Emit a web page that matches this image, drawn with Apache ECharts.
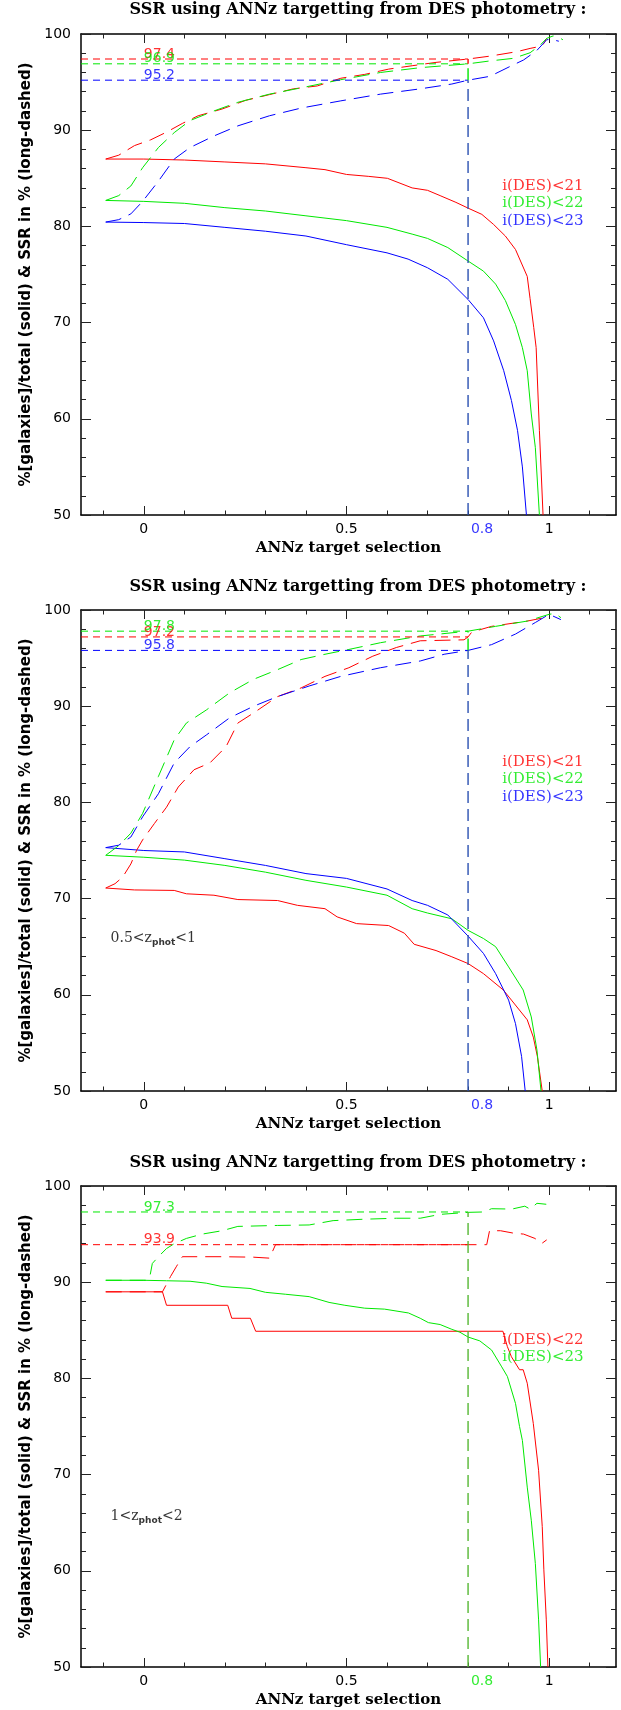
<!DOCTYPE html>
<html><head><meta charset="utf-8">
<script src="https://cdn.jsdelivr.net/npm/echarts@6/dist/echarts.min.js"></script>
<style>html,body{margin:0;padding:0;background:#fff}#c{width:621px;height:1710px}</style>
</head><body><div id="c"></div>
<script>
// ---------- axis ranges & ticks ----------
const XMIN = -0.155, XMAX = 1.165, YMIN = 50, YMAX = 100;
const XCUT = 0.8;
const xMajorTicks = [0, 0.5, 1];
const xTickLabels = ['0', '0.5', '1'];
const xMinorTicks = [-0.1, 0.1, 0.2, 0.3, 0.4, 0.6, 0.7, 0.8, 0.9, 1.1];
const titleText = 'SSR using ANNz targetting from DES photometry :';
const xName = 'ANNz target selection';
const yName = '%[galaxies]/total (solid) & SSR in % (long-dashed)';

// ---------- panel 1 (all z) ----------
const p1Legend = ['i(DES)<21', 'i(DES)<22', 'i(DES)<23'];
const p1SSR = [97.4, 96.9, 95.2];
const p1RedSolid = [[-0.094,87.0],[0,87.0],[0.1,86.9],[0.2,86.7],[0.3,86.5],[0.4,86.1],[0.447,85.9],[0.5,85.4],[0.555,85.2],[0.601,85.0],[0.662,84.0],[0.7,83.75],[0.731,83.2],[0.77,82.5],[0.8,81.9],[0.834,81.25],[0.863,80.2],[0.892,79.0],[0.917,77.6],[0.946,74.8],[0.953,72.5],[0.962,69.5],[0.968,67.4],[0.976,58.8],[0.985,50]];
const p1GreenSolid = [[-0.094,82.7],[0,82.6],[0.1,82.4],[0.2,81.95],[0.3,81.6],[0.4,81.1],[0.5,80.6],[0.6,79.9],[0.662,79.2],[0.7,78.75],[0.75,77.8],[0.8,76.4],[0.838,75.35],[0.868,74.0],[0.892,72.3],[0.917,69.8],[0.934,67.4],[0.946,65.0],[0.956,60.5],[0.966,57.0],[0.976,50]];
const p1BlueSolid = [[-0.094,80.45],[0,80.4],[0.1,80.3],[0.2,79.9],[0.3,79.5],[0.4,79.0],[0.5,78.1],[0.6,77.25],[0.652,76.6],[0.7,75.7],[0.75,74.5],[0.8,72.4],[0.838,70.5],[0.863,68.1],[0.888,65.0],[0.907,61.9],[0.922,58.8],[0.934,55.0],[0.944,50]];
const p1RedSSR = [[-0.094,87.0],[-0.062,87.4],[-0.023,88.4],[0.017,89.0],[0.056,89.8],[0.095,90.7],[0.134,91.5],[0.193,92.2],[0.251,93.1],[0.31,93.7],[0.369,94.3],[0.428,94.6],[0.486,95.4],[0.545,95.8],[0.604,96.35],[0.662,96.7],[0.721,97.05],[0.8,97.4],[0.854,97.7],[0.92,98.16],[0.953,98.5],[0.982,98.75],[0.986,98.96],[0.994,99.55]];
const p1GreenSSR = [[-0.094,82.7],[-0.062,83.2],[-0.032,84.2],[-0.003,86.1],[0.036,88.2],[0.075,89.75],[0.114,91.0],[0.173,92.0],[0.232,92.9],[0.31,93.75],[0.388,94.4],[0.486,95.25],[0.584,96.0],[0.682,96.5],[0.8,96.9],[0.854,97.2],[0.912,97.47],[0.953,98.05],[0.978,98.85],[0.994,99.55],[1.01,99.8],[1.024,99.65],[1.034,99.4]];
const p1BlueSSR = [[-0.094,80.45],[-0.062,80.7],[-0.032,81.3],[-0.003,82.6],[0.036,84.7],[0.075,87.0],[0.114,88.2],[0.173,89.4],[0.232,90.45],[0.31,91.5],[0.388,92.3],[0.486,93.05],[0.584,93.75],[0.682,94.3],[0.76,94.8],[0.8,95.2],[0.854,95.6],[0.912,96.8],[0.937,97.3],[0.97,98.3],[0.994,99.4],[1.004,99.45],[1.024,99.25]];

// ---------- panel 2 (0.5<z<1) ----------
const p2Legend = ['i(DES)<21', 'i(DES)<22', 'i(DES)<23'];
const p2SSR = [97.2, 97.8, 95.8];
const p2RedSolid = [[-0.094,71.1],[-0.023,70.9],[0.075,70.85],[0.105,70.5],[0.173,70.35],[0.232,69.9],[0.33,69.8],[0.379,69.3],[0.447,68.95],[0.477,68.1],[0.525,67.4],[0.604,67.2],[0.643,66.4],[0.667,65.25],[0.721,64.6],[0.76,63.95],[0.8,63.25],[0.838,62.2],[0.887,60.5],[0.907,59.45],[0.946,57.4],[0.961,55.6],[0.971,53.6],[0.983,50]];
const p2GreenSolid = [[-0.094,74.5],[0,74.3],[0.1,74.0],[0.2,73.45],[0.3,72.75],[0.4,71.9],[0.5,71.2],[0.6,70.35],[0.662,68.95],[0.7,68.5],[0.76,67.9],[0.8,66.7],[0.838,65.85],[0.868,65.0],[0.9,62.9],[0.936,60.5],[0.956,57.7],[0.97,54.25],[0.98,50]];
const p2BlueSolid = [[-0.094,75.3],[0,75.0],[0.1,74.85],[0.2,74.15],[0.3,73.45],[0.4,72.6],[0.5,72.1],[0.6,71.0],[0.662,69.8],[0.7,69.3],[0.75,68.3],[0.8,66.1],[0.838,64.3],[0.868,62.2],[0.9,59.45],[0.917,57.0],[0.932,53.6],[0.941,50]];
const p2RedSSR = [[-0.094,71.1],[-0.071,71.55],[-0.052,72.25],[-0.032,73.6],[-0.018,75.0],[-0.003,76.1],[0.026,77.8],[0.056,79.5],[0.085,81.6],[0.124,83.4],[0.163,84.1],[0.203,85.8],[0.232,88.25],[0.271,89.3],[0.33,91.0],[0.388,91.9],[0.447,93.1],[0.506,94.0],[0.565,95.2],[0.623,96.1],[0.682,96.8],[0.79,96.9],[0.8,97.2],[0.809,97.7],[0.858,98.3],[0.946,98.85],[1.0,99.3]];
const p2GreenSSR = [[-0.094,74.5],[-0.062,75.5],[-0.032,76.8],[-0.003,78.85],[0.036,82.7],[0.075,86.5],[0.105,88.25],[0.154,89.6],[0.212,91.4],[0.271,92.8],[0.33,93.8],[0.388,94.85],[0.447,95.4],[0.506,95.9],[0.584,96.6],[0.682,97.3],[0.8,97.8],[0.868,98.3],[0.946,98.85],[1.0,99.55],[1.015,99.65],[1.029,99.2]];
const p2BlueSSR = [[-0.094,75.3],[-0.062,75.55],[-0.032,76.4],[-0.003,78.5],[0.036,80.9],[0.075,84.1],[0.114,85.8],[0.154,87.0],[0.212,88.8],[0.271,90.0],[0.33,91.0],[0.408,92.1],[0.486,93.1],[0.584,94.0],[0.682,94.7],[0.741,95.4],[0.8,95.8],[0.858,96.4],[0.917,97.5],[0.966,98.7],[1.0,99.55],[1.029,99.0]];

// ---------- panel 3 (1<z<2) ----------
const p3Legend = ['i(DES)<22', 'i(DES)<23'];
const p3SSR = [93.9, 97.3];
const p3RedSolid = [[-0.094,89.0],[0.046,89.0],[0.056,87.6],[0.207,87.6],[0.217,86.25],[0.263,86.25],[0.276,84.9],[0.886,84.9],[0.897,83.3],[0.907,82.25],[0.927,80.9],[0.936,80.9],[0.946,79.5],[0.961,75.3],[0.974,70.45],[0.983,64.6],[0.987,60.1],[0.993,54.9],[0.997,50]];
const p3GreenSolid = [[-0.094,90.2],[0,90.2],[0.056,90.15],[0.114,90.1],[0.154,89.9],[0.193,89.55],[0.262,89.35],[0.3,88.95],[0.349,88.75],[0.408,88.5],[0.457,87.9],[0.496,87.6],[0.545,87.3],[0.594,87.2],[0.653,86.8],[0.682,86.25],[0.702,85.8],[0.731,85.6],[0.76,85.1],[0.78,84.8],[0.8,84.3],[0.829,83.9],[0.858,82.95],[0.883,81.2],[0.897,80.2],[0.917,77.4],[0.927,75.0],[0.934,73.55],[0.946,68.7],[0.956,65.25],[0.966,60.75],[0.974,54.9],[0.979,50]];
const p3RedSSR = [[-0.094,89.0],[0.046,89.0],[0.066,90.6],[0.08,91.6],[0.095,92.65],[0.193,92.65],[0.271,92.6],[0.31,92.5],[0.325,93.9],[0.846,93.9],[0.853,95.35],[0.88,95.35],[0.912,95.1],[0.937,95.0],[0.965,94.55],[0.982,94.03],[0.994,94.4]];
const p3GreenSSR = [[-0.094,90.2],[0.007,90.2],[0.015,90.6],[0.021,91.95],[0.036,92.65],[0.056,93.5],[0.075,94.0],[0.105,94.55],[0.144,95.0],[0.193,95.35],[0.232,95.8],[0.33,95.9],[0.408,95.95],[0.467,96.4],[0.545,96.55],[0.623,96.65],[0.682,96.65],[0.731,97.05],[0.8,97.26],[0.838,97.3],[0.858,97.64],[0.908,97.6],[0.94,97.9],[0.953,97.6],[0.97,98.2],[0.993,98.1]];

// ---------- styling ----------
const RED = '#ff0000', GREEN = '#00e800', BLUE = '#0000ff';
const VBLUE = '#2a4fb0', VGREEN = '#55b733';
const SANS = 'DejaVu Sans', SERIF = 'DejaVu Serif';
const GRID_TOPS = [34, 610, 1186];
const GRID_LEFT = 81, GRID_W = 535, GRID_H = 481;
const LONG_DASH = [16, 8];

const grids = [], xAxes = [], yAxes = [], series = [], graphics = [];

function addAxes(gi) {
  grids.push({left: GRID_LEFT, top: GRID_TOPS[gi], width: GRID_W, height: GRID_H, containLabel: false});
  const base = {gridIndex: gi, type: 'value', min: XMIN, max: XMAX, splitLine: {show: false}, minorSplitLine: {show: false}};
  const tickStyle = {color: '#222', width: 1};
  xAxes.push(Object.assign({}, base, {
    position: 'bottom',
    axisLine: {show: true, onZero: false, lineStyle: {color: '#000', width: 1.5}},
    axisTick: {show: true, inside: true, length: 9, customValues: xMajorTicks, lineStyle: tickStyle},
    axisLabel: {show: true, customValues: xMajorTicks, margin: 7, fontSize: 14, fontFamily: SANS, color: '#000',
      formatter: v => xTickLabels[xMajorTicks.indexOf(v)] ?? String(v)},
    name: xName, nameLocation: 'middle', nameGap: 26,
    nameTextStyle: {fontFamily: SERIF, fontWeight: 'bold', fontSize: 15, color: '#000'}
  }));
  xAxes.push(Object.assign({}, base, {
    position: 'bottom', axisLine: {show: false, onZero: false},
    axisTick: {show: true, inside: true, length: 4.5, customValues: xMinorTicks, lineStyle: tickStyle},
    axisLabel: {show: false}
  }));
  xAxes.push(Object.assign({}, base, {
    position: 'top', axisLine: {show: true, onZero: false, lineStyle: {color: '#000', width: 1.5}},
    axisTick: {show: true, inside: true, length: 9, customValues: xMajorTicks, lineStyle: tickStyle},
    axisLabel: {show: false}
  }));
  xAxes.push(Object.assign({}, base, {
    position: 'top', axisLine: {show: false, onZero: false},
    axisTick: {show: true, inside: true, length: 4.5, customValues: xMinorTicks, lineStyle: tickStyle},
    axisLabel: {show: false}
  }));
  const ybase = {gridIndex: gi, type: 'value', min: YMIN, max: YMAX, interval: 10,
    splitLine: {show: false}, minorSplitLine: {show: false},
    axisLine: {show: true, onZero: false, lineStyle: {color: '#000', width: 1.5}},
    axisTick: {show: true, inside: true, length: 10, lineStyle: tickStyle},
    minorTick: {show: true, splitNumber: 5, length: 5, lineStyle: tickStyle}};
  yAxes.push(Object.assign({}, ybase, {
    position: 'left',
    axisLabel: {show: true, margin: 10, fontSize: 14, fontFamily: SANS, color: '#000'},
    name: yName, nameLocation: 'middle', nameRotate: 90, nameGap: 47,
    nameTextStyle: {fontFamily: SANS, fontWeight: 'bold', fontSize: 15, color: '#000'}
  }));
  yAxes.push(Object.assign({}, ybase, {position: 'right', axisLabel: {show: false}}));
}

function line(gi, data, color, dash, width, z) {
  series.push({type: 'line', xAxisIndex: gi * 4, yAxisIndex: gi * 2, data: data,
    symbol: 'none', showSymbol: false, silent: true, animation: false, z: z || 2,
    lineStyle: {color: color, width: width || 1, type: dash}});
}

function labels(gi, items) {
  series.push({type: 'scatter', xAxisIndex: gi * 4, yAxisIndex: gi * 2, symbolSize: 0, silent: true,
    animation: false, z: 5, data: items});
}

function refLines(gi, levels, colors, vcolors) {
  levels.forEach((v, k) => {
    line(gi, [[XMIN, v], [XCUT, v]], colors[k], [7, 5], 1, 3);
  });
  // vertical cut: later-drawn series cover the earlier ones below their own level
  levels.forEach((v, k) => {
    const lower = Math.max(YMIN, ...levels.slice(k + 1));
    if (v > lower) line(gi, [[XCUT, lower], [XCUT, v]], vcolors[k], [12, 6], 1.4, 4);
  });
  labels(gi, levels.map((v, k) => ({value: [0, v],
    label: {show: true, position: 'right', distance: 0, offset: [0, -5], formatter: String(v),
      fontFamily: SANS, fontSize: 14, color: colors[k]}})));
}

function legend(gi, names, colors, ys) {
  labels(gi, names.map((n, k) => ({value: [1.085, ys[k]],
    label: {show: true, position: 'left', distance: 0, formatter: n, fontFamily: SERIF, fontSize: 15, color: colors[k]}})));
}

function cutLabel(gi, color) {
  labels(gi, [{value: [XCUT, YMIN], label: {show: true, position: 'bottom', distance: 7, offset: [14, 0],
    formatter: String(XCUT), fontFamily: SANS, fontSize: 14, color: color}}]);
}

function zLabel(gi, lo, hi, y) {
  labels(gi, [{value: [-0.082, y], label: {show: true, position: 'right', distance: 0,
    formatter: '{a|' + lo + '<z}{s|phot}{a|<' + hi + '}',
    rich: {a: {fontFamily: SERIF, fontSize: 14, color: '#000'},
           s: {fontFamily: SANS, fontWeight: 'bold', fontSize: 9, color: '#000', padding: [9, 0, 0, 0]}}}}]);
}

// panel 1
addAxes(0);
line(0, p1RedSolid, RED, 'solid'); line(0, p1GreenSolid, GREEN, 'solid'); line(0, p1BlueSolid, BLUE, 'solid');
line(0, p1RedSSR, RED, LONG_DASH); line(0, p1GreenSSR, GREEN, LONG_DASH); line(0, p1BlueSSR, BLUE, LONG_DASH);
refLines(0, p1SSR, [RED, GREEN, BLUE], [RED, GREEN, VBLUE]);
legend(0, p1Legend, [RED, GREEN, BLUE], [84.2, 82.4, 80.55]);
cutLabel(0, BLUE);

// panel 2
addAxes(1);
line(1, p2RedSolid, RED, 'solid'); line(1, p2GreenSolid, GREEN, 'solid'); line(1, p2BlueSolid, BLUE, 'solid');
line(1, p2RedSSR, RED, LONG_DASH); line(1, p2GreenSSR, GREEN, LONG_DASH); line(1, p2BlueSSR, BLUE, LONG_DASH);
refLines(1, p2SSR, [RED, GREEN, BLUE], [RED, GREEN, VBLUE]);
legend(1, p2Legend, [RED, GREEN, BLUE], [84.2, 82.4, 80.6]);
cutLabel(1, BLUE);
zLabel(1, '0.5', '1', 65.9);

// panel 3
addAxes(2);
line(2, p3RedSolid, RED, 'solid'); line(2, p3GreenSolid, GREEN, 'solid');
line(2, p3RedSSR, RED, LONG_DASH); line(2, p3GreenSSR, GREEN, LONG_DASH);
refLines(2, p3SSR, [RED, GREEN], [RED, VGREEN]);
legend(2, p3Legend, [RED, GREEN], [84.0, 82.2]);
cutLabel(2, GREEN);
zLabel(2, '1', '2', 65.7);

// titles
[10, 587, 1163].forEach(y => graphics.push({type: 'text', x: 358, y: y, silent: true,
  style: {text: titleText, align: 'center', verticalAlign: 'middle', fontFamily: SERIF, fontWeight: 'bold', fontSize: 16, fill: '#000'}}));

const chart = echarts.init(document.getElementById('c'), null, {renderer: 'canvas'});
chart.setOption({animation: false, backgroundColor: '#fff', grid: grids, xAxis: xAxes, yAxis: yAxes, series: series, graphic: graphics});
</script></body></html>
